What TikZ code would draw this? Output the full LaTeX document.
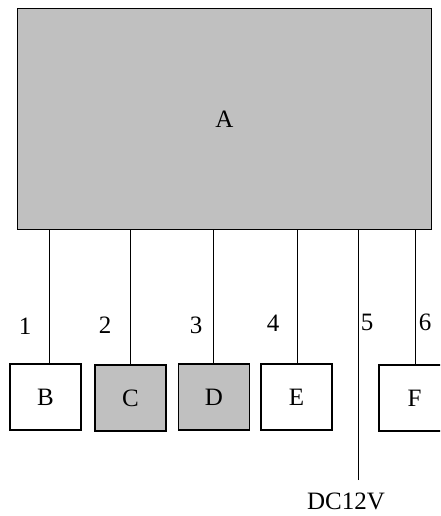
\documentclass[tikz,border=0pt]{standalone}
\usepackage{fontspec}
\setmainfont{Liberation Serif}
\begin{document}
\begin{tikzpicture}[x=1pt,y=-1pt,
  box/.style={draw=black,line width=1.1pt,inner sep=0pt,font=\fontsize{25}{25}\selectfont},
  whitebox/.style={box,fill=white,minimum width=71pt,minimum height=66pt},
  graybox/.style={box,fill=boxgray,minimum width=71pt,minimum height=66pt},
  wire/.style={draw=black,line width=1pt},
  lbl/.style={inner sep=0pt,font=\fontsize{25}{25}\selectfont}]
\definecolor{boxgray}{HTML}{C0C0C0}
\clip (0,0) rectangle (440,516);
\fill[white] (0,0) rectangle (440,516);
\node[box,fill=boxgray,minimum width=414pt,minimum height=221pt] (A) at (224.5,119) {A};
\node[whitebox] (B) at (45.5,397) {B};
\node[graybox] (C) at (130.5,398) {C};
\node[graybox] (D) at (214,397) {D};
\node[whitebox] (E) at (296.5,397) {E};
\node[whitebox] (F) at (414.5,398) {F};
\coordinate (P) at (358,480);
\draw[wire] ([xshift=3.5pt]B.north) -- ([xshift=3.5pt]B.north |- A.south);
\draw[wire] ([xshift=-0.5pt]C.north) -- ([xshift=-0.5pt]C.north |- A.south);
\draw[wire] ([xshift=-1pt]D.north) -- ([xshift=-1pt]D.north |- A.south);
\draw[wire] ([xshift=0.5pt]E.north) -- ([xshift=0.5pt]E.north |- A.south);
\draw[wire] ([xshift=0.5pt]F.north) -- ([xshift=0.5pt]F.north |- A.south);
\draw[wire] (P) -- (P |- A.south);
\node[lbl] (l1) at (25,326) {1};
\node[lbl] (l2) at (105,325) {2};
\node[lbl] (l3) at (196,325) {3};
\node[lbl] (l4) at (273,323) {4};
\node[lbl] (l5) at (367,322) {5};
\node[lbl] (l6) at (425,322) {6};
\node[lbl] (dc) at (346,501) {DC12V};
\end{tikzpicture}
\end{document}
